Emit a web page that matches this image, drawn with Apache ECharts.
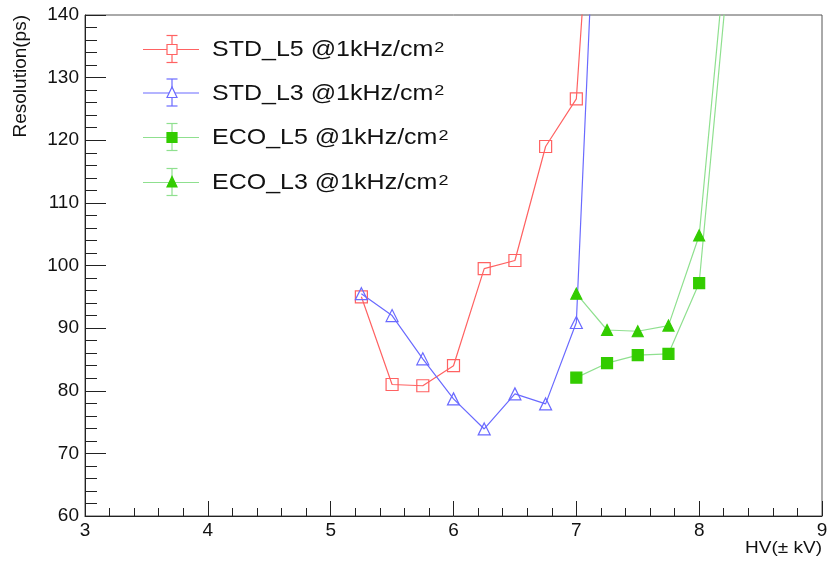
<!DOCTYPE html>
<html>
<head>
<meta charset="utf-8">
<script src="https://cdn.jsdelivr.net/npm/echarts@6/dist/echarts.min.js"></script>
<style>
html,body{margin:0;padding:0;background:#fff;}
#chart{width:828px;height:561px;}
</style>
</head>
<body>
<div id="chart"></div>
<script>
// ---- data ----
var hvStd = [5.25, 5.5, 5.75, 6, 6.25, 6.5, 6.75, 7, 7.25];
var stdL5 = [95, 81, 80.8, 84, 99.5, 100.8, 119, 126.6, 199];
var stdL3 = [95.5, 92, 85.1, 78.7, 73.9, 79.5, 77.9, 90.9, 204];
var hvEco = [7, 7.25, 7.5, 7.75, 8, 8.25];
var ecoL5 = [82.1, 84.4, 85.7, 85.9, 97.2, 150];
var ecoL3 = [95.5, 89.7, 89.5, 90.4, 104.8, 157];
var seriesNames = ['STD_L5 @1kHz/cm', 'STD_L3 @1kHz/cm', 'ECO_L5 @1kHz/cm', 'ECO_L3 @1kHz/cm'];
var xTitle = 'HV(\u00b1 kV)';
var yTitle = 'Resolution(ps)';
var xRange = [3, 9], yRange = [60, 140];

var FONT = '"Liberation Sans", Arial, Helvetica, sans-serif';
var RED = '#ff6262', BLUE = '#6a6aff', GLINE = '#8fe08f', GMARK = '#33cc00';

function pairs(xs, ys) { return xs.map(function (x, i) { return [x, ys[i]]; }); }

function mkSeries(name, xs, ys, lineColor, symbol, size, fill, stroke) {
  return {
    name: name, type: 'line', data: pairs(xs, ys),
    symbol: symbol, symbolSize: size, showAllSymbol: true, clip: true,
    lineStyle: { color: lineColor, width: 1.2 },
    itemStyle: { color: fill, borderColor: stroke, borderWidth: 1.2 },
    emphasis: { disabled: true }
  };
}

// legend drawn with graphic elements
var rows = [49.5, 93, 137.5, 182.5];
var legendStyles = [
  { c: RED, m: 'rect', fill: 'none', stroke: RED },
  { c: BLUE, m: 'tri', fill: 'none', stroke: BLUE },
  { c: GLINE, m: 'rect', fill: GMARK, stroke: GMARK },
  { c: GLINE, m: 'tri', fill: GMARK, stroke: GMARK }
];
var graphics = [];
rows.forEach(function (y, i) {
  var s = legendStyles[i];
  var cx = 172;
  graphics.push({ type: 'line', shape: { x1: 143, y1: y, x2: 199, y2: y }, style: { stroke: s.c, lineWidth: 1.2 } });
  graphics.push({ type: 'line', shape: { x1: cx, y1: y - 14, x2: cx, y2: y + 13 }, style: { stroke: s.c, lineWidth: 1.2 } });
  graphics.push({ type: 'line', shape: { x1: cx - 5.5, y1: y - 14, x2: cx + 5.5, y2: y - 14 }, style: { stroke: s.c, lineWidth: 1.2 } });
  graphics.push({ type: 'line', shape: { x1: cx - 5.5, y1: y + 13, x2: cx + 5.5, y2: y + 13 }, style: { stroke: s.c, lineWidth: 1.2 } });
  if (s.m === 'rect') {
    graphics.push({ type: 'rect', shape: { x: cx - 5, y: y - 5, width: 10, height: 10 }, style: { fill: s.fill === 'none' ? '#fff' : s.fill, stroke: s.stroke, lineWidth: 1.2 } });
  } else {
    graphics.push({ type: 'polygon', shape: { points: [[cx, y - 6], [cx - 5, y + 4.5], [cx + 5, y + 4.5]] }, style: { fill: s.fill === 'none' ? '#fff' : s.fill, stroke: s.stroke, lineWidth: 1.2 } });
  }
  graphics.push({
    type: 'text', x: 212, y: y + 1, scaleY: 0.86,
    style: {
      text: '{a|' + seriesNames[i] + '}{s|2}',
      verticalAlign: 'middle', align: 'left',
      rich: {
        a: { fontSize: 25, fontFamily: FONT, fill: '#111' },
        s: { fontSize: 18, fontFamily: FONT, fill: '#111', verticalAlign: 'top', padding: [0, 0, 0, 1] }
      }
    }
  });
});
graphics.push({
  type: 'text', x: 21, y: 15, rotation: Math.PI / 2,
  style: { text: yTitle, align: 'right', verticalAlign: 'middle', fontSize: 19, fontFamily: FONT, fill: '#111' }
});
graphics.push({
  type: 'text', x: 822, y: 548, scaleY: 0.9,
  style: { text: xTitle, align: 'right', verticalAlign: 'middle', fontSize: 19, fontFamily: FONT, fill: '#111' }
});

var chart = echarts.init(document.getElementById('chart'), null, { renderer: 'canvas' });
chart.setOption({
  animation: false,
  backgroundColor: '#fff',
  grid: { left: 85, right: 6, top: 15, bottom: 45, show: true, borderColor: '#555', borderWidth: 1, backgroundColor: 'transparent', containLabel: false, outerBoundsMode: 'none' },
  xAxis: {
    type: 'value', min: xRange[0], max: xRange[1], interval: 1,
    axisLine: { show: true, lineStyle: { color: '#222', width: 1 } },
    axisTick: { show: true, inside: true, length: 15, lineStyle: { color: '#222' } },
    minorTick: { show: true, splitNumber: 5, length: 8, lineStyle: { color: '#222' } },
    splitLine: { show: false },
    axisLabel: { fontSize: 19, fontFamily: FONT, color: '#111', margin: 5 }
  },
  yAxis: {
    type: 'value', min: yRange[0], max: yRange[1], interval: 10,
    axisLine: { show: true, lineStyle: { color: '#222', width: 1 } },
    axisTick: { show: true, inside: true, length: 21, lineStyle: { color: '#222' } },
    minorTick: { show: true, splitNumber: 5, length: 12, lineStyle: { color: '#222' } },
    splitLine: { show: false },
    axisLabel: { fontSize: 19, fontFamily: FONT, color: '#111', margin: 6 }
  },
  graphic: graphics,
  series: [
    mkSeries(seriesNames[0], hvStd, stdL5, RED, 'rect', 12, 'rgba(0,0,0,0)', RED),
    mkSeries(seriesNames[1], hvStd, stdL3, BLUE, 'triangle', 12, 'rgba(0,0,0,0)', BLUE),
    mkSeries(seriesNames[2], hvEco, ecoL5, GLINE, 'rect', 11, GMARK, GMARK),
    mkSeries(seriesNames[3], hvEco, ecoL3, GLINE, 'triangle', 11, GMARK, GMARK)
  ]
});
</script>
</body>
</html>
